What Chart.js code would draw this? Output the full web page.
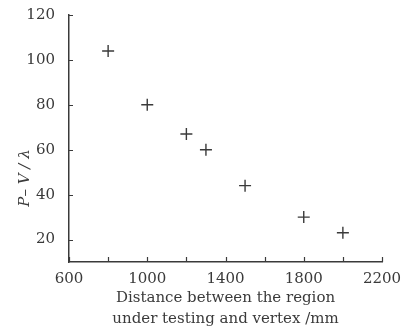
<!DOCTYPE html>
<html>
<head>
<meta charset="utf-8">
<script src="https://cdn.jsdelivr.net/npm/chart.js@4/dist/chart.umd.min.js"></script>
<style>
  html, body { margin: 0; padding: 0; background: #fff; }
  #wrap { width: 407px; height: 334px; }
</style>
</head>
<body>
<div id="wrap"><canvas id="chart"></canvas></div>
<script>
/* ─── Data ───────────────────── */
const distance = [800, 1000, 1200, 1300, 1500, 1800, 2000];
const pv = [104, 80, 67, 60, 44, 30, 23];
const xTicks = [600, 800, 1000, 1200, 1400, 1600, 1800, 2000, 2200];
const xLabelled = [600, 1000, 1400, 1800, 2200];
const yTicks = [20, 40, 60, 80, 100, 120];

const ink = '#3a3a3a';
const serif = "'DejaVu Serif', 'Liberation Serif', serif";

/* inward tick marks + rotated y title */
const axisDecor = {
  id: 'axisDecor',
  afterDraw(chart) {
    const { ctx, chartArea, scales } = chart;
    ctx.save();
    ctx.strokeStyle = ink;
    ctx.lineWidth = 1.2;
    ctx.beginPath();
    xTicks.forEach(v => {
      const px = Math.round(scales.x.getPixelForValue(v)) + 0.5;
      ctx.moveTo(px, chartArea.bottom);
      ctx.lineTo(px, chartArea.bottom - 5);
    });
    yTicks.forEach(v => {
      const py = Math.round(scales.y.getPixelForValue(v)) + 0.5;
      ctx.moveTo(chartArea.left, py);
      ctx.lineTo(chartArea.left + 4, py);
    });
    ctx.stroke();

    ctx.fillStyle = ink;
    ctx.font = 'italic 15px ' + serif;
    ctx.textAlign = 'center';
    ctx.textBaseline = 'middle';
    ctx.translate(25, 178);
    ctx.rotate(-Math.PI / 2);
    ctx.fillText('P– V / λ', 0, 0);
    ctx.restore();
  }
};

new Chart(document.getElementById('chart'), {
  type: 'scatter',
  data: {
    datasets: [{
      data: distance.map((d, i) => ({ x: d, y: pv[i] })),
      pointStyle: 'cross',
      pointRadius: 6,
      borderColor: ink,
      borderWidth: 1.4,
      backgroundColor: ink
    }]
  },
  options: {
    responsive: true,
    maintainAspectRatio: false,
    animation: false,
    layout: { padding: { top: 15, right: 25, left: 0, bottom: 0 } },
    plugins: { legend: { display: false }, tooltip: { enabled: false } },
    scales: {
      x: {
        type: 'linear',
        min: 600,
        max: 2200,
        afterBuildTicks: s => { s.ticks = xTicks.map(v => ({ value: v })); },
        afterFit: s => { s.height = 72; },
        grid: { display: false },
        border: { display: true, color: ink, width: 1.5 },
        ticks: {
          color: ink,
          padding: 0,
          maxRotation: 0,
          autoSkip: false,
          font: { family: serif, size: 15 },
          callback: v => xLabelled.includes(v) ? String(v) : ''
        },
        title: {
          display: true,
          text: ['Distance between the region', 'under testing and vertex /mm'],
          color: ink,
          font: { family: serif, size: 15, lineHeight: 1.4 },
          padding: { top: 2 }
        }
      },
      y: {
        min: 10,
        max: 120,
        afterBuildTicks: s => { s.ticks = yTicks.map(v => ({ value: v })); },
        afterFit: s => { s.width = 69; },
        grid: { display: false },
        border: { display: true, color: ink, width: 1.5 },
        ticks: {
          color: ink,
          padding: 6,
          font: { family: serif, size: 15 }
        }
      }
    }
  },
  plugins: [axisDecor]
});
</script>
</body>
</html>
